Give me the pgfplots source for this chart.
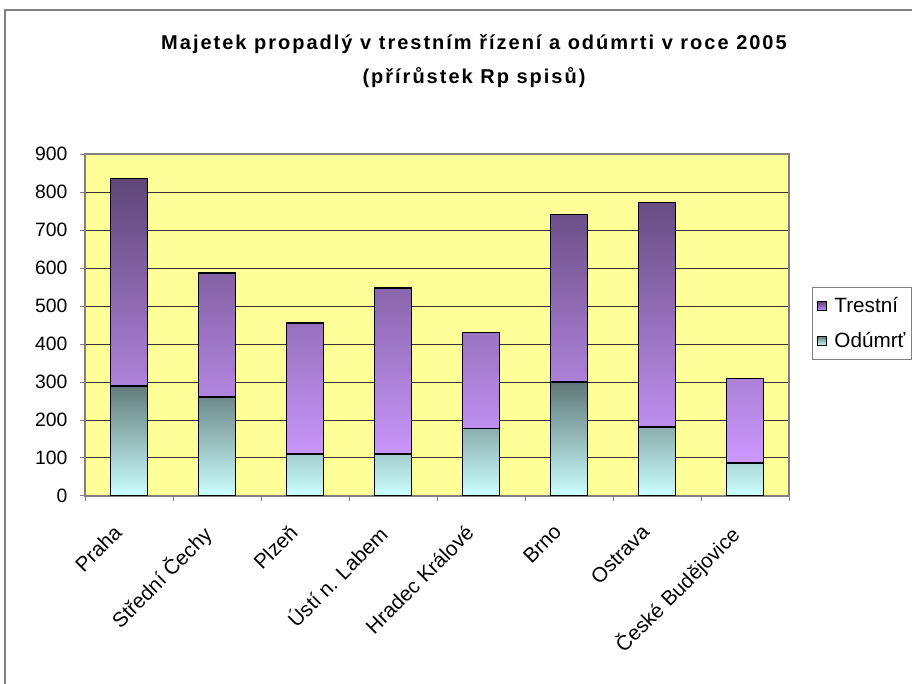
\documentclass[border=0pt]{standalone}
\usepackage{pgfplots}
\pgfplotsset{compat=1.18}
\usepackage{fontspec}
\setmainfont{Liberation Sans}
\definecolor{plotbg}{HTML}{FFFF99}
\definecolor{trtop}{HTML}{5E4676}
\definecolor{trbot}{HTML}{CC99FF}
\definecolor{odtop}{HTML}{5F7877}
\definecolor{odbot}{HTML}{CCFFFF}
\definecolor{framegray}{HTML}{808080}
\begin{document}
\begin{tikzpicture}
\path[use as bounding box] (0pt,0pt) rectangle (684pt,513pt);
\draw[framegray, line width=1.2pt] (3.75pt,-5pt) -- (3.75pt,505.5pt) -- (690pt,505.5pt);
\node[align=center, font=\fontsize{15}{25.5}\selectfont\bfseries\addfontfeatures{LetterSpace=10}] at (355.5pt,467pt)
  {Majetek propadlý v trestním řízení a odúmrti v roce 2005\\(přírůstek Rp spisů)};
\begin{axis}[
  at={(63.75pt,141pt)}, anchor=south west,
  scale only axis, width=528pt, height=256.5pt,
  ybar stacked, bar width=27.75pt,
  xmin=-0.5, xmax=7.5, ymin=0, ymax=900,
  ytick={0,100,...,900},
  xtick={-0.5,0.5,...,7.5},
  x tick label as interval,
  xticklabels={Praha,Střední Čechy,Plzeň,Ústí n. Labem,Hradec Králové,Brno,Ostrava,České Budějovice},
  xticklabel style={font=\fontsize{15.5}{18}\selectfont, xshift=-12.5pt, yshift=-12pt, rotate=45, anchor=north east},
  yticklabel style={xshift=-6pt},
  tick align=outside, major tick length=3.75pt,
  xtick pos=bottom, ytick pos=left,
  tick style={framegray, line width=0.75pt},
  ymajorgrids, major grid style={black!80, line width=0.75pt},
  axis line style={framegray, line width=1pt},
  axis background/.style={fill=plotbg},
  ticklabel style={font=\fontsize{14.5}{17}\selectfont},
  /pgf/number format/assume math mode=true,
  legend style={at={(1.0327,0.611)}, anchor=north west, draw=framegray, line width=0.9pt,
    fill=white, font=\fontsize{15.5}{18}\selectfont, row sep=9pt, inner xsep=3pt, inner ysep=5.5pt,
    /tikz/every odd column/.append style={column sep=4pt}},
  legend cell align=left,
  legend image code/.code={\draw[#1, draw=black, line width=0.6pt] (0pt,-3.4pt) rectangle (6.8pt,3.4pt);},
  reverse legend,
]
\addplot[draw=black, line width=1.1pt, top color=odtop, bottom color=odbot] coordinates
  {(0,290) (1,261) (2,110) (3,110) (4,177) (5,300) (6,182) (7,87)};
\addlegendentry{Odúmrť}
\addplot[draw=black, line width=1.1pt, top color=trtop, bottom color=trbot] coordinates
  {(0,545) (1,326) (2,345) (3,437) (4,253) (5,441) (6,591) (7,222)};
\addlegendentry{Trestní}
\end{axis}
\end{tikzpicture}
\end{document}
